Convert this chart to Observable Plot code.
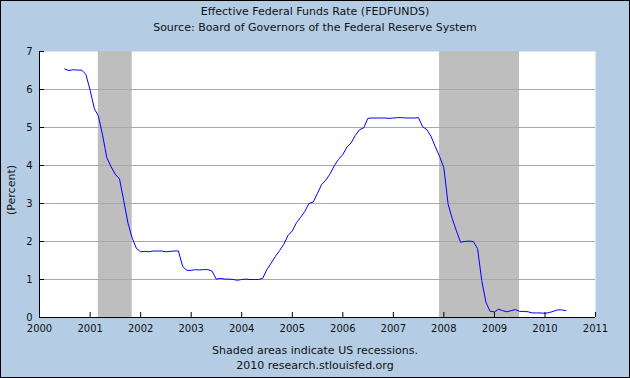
<!DOCTYPE html>
<html><head><meta charset="utf-8">
<script src="https://cdn.jsdelivr.net/npm/d3@7"></script>
<script src="https://cdn.jsdelivr.net/npm/@observablehq/plot@0.6"></script>
<style>
html,body{margin:0;padding:0;}
body{width:630px;height:378px;overflow:hidden;background:#b4cde4;position:relative;font-family:"DejaVu Sans",sans-serif;color:#111;}
.t{position:absolute;left:0;width:630px;text-align:center;font-size:11px;line-height:14px;}
#frame{position:absolute;left:0;top:0;width:630px;height:378px;box-sizing:border-box;border:1px solid #000;pointer-events:none;}
#ylab{position:absolute;left:11px;top:190px;transform:translate(-50%,-50%) rotate(-90deg);font-size:11px;white-space:nowrap;}
#chart{position:absolute;left:0;top:0;}
</style></head>
<body>
<div class="t" style="top:5px">Effective Federal Funds Rate (FEDFUNDS)</div>
<div class="t" style="top:21px">Source: Board of Governors of the Federal Reserve System</div>
<div id="chart"></div>
<div id="ylab">(Percent)</div>
<div class="t" style="top:344px">Shaded areas indicate US recessions.</div>
<div class="t" style="top:359px">2010 research.stlouisfed.org</div>
<div id="frame"></div>
<script>
// Monthly effective federal funds rate, Jul 2000 – Jun 2010 (percent)
const firstMonth = "2000-07-01";
const rates = [
  6.54, 6.50, 6.52, 6.51, 6.51, 6.40,
  5.98, 5.49, 5.31, 4.80, 4.21, 3.97, 3.77, 3.65, 3.07, 2.49, 2.09, 1.82,
  1.73, 1.74, 1.73, 1.75, 1.75, 1.75, 1.73, 1.74, 1.75, 1.75, 1.34, 1.24,
  1.24, 1.26, 1.25, 1.26, 1.26, 1.22, 1.01, 1.03, 1.01, 1.01, 1.00, 0.98,
  1.00, 1.01, 1.00, 1.00, 1.00, 1.03, 1.26, 1.43, 1.61, 1.76, 1.93, 2.16,
  2.28, 2.50, 2.63, 2.79, 3.00, 3.04, 3.26, 3.50, 3.62, 3.78, 4.00, 4.16,
  4.29, 4.49, 4.59, 4.79, 4.94, 4.99, 5.24, 5.25, 5.25, 5.25, 5.25, 5.24,
  5.25, 5.26, 5.26, 5.25, 5.25, 5.25, 5.26, 5.02, 4.94, 4.76, 4.49, 4.24,
  3.94, 2.98, 2.61, 2.28, 1.98, 2.00, 2.01, 2.00, 1.81, 0.97, 0.39, 0.16,
  0.15, 0.22, 0.18, 0.15, 0.18, 0.21, 0.16, 0.16, 0.15, 0.12, 0.12, 0.12,
  0.11, 0.13, 0.16, 0.20, 0.20, 0.18
];
const recessionStarts = ["2001-03-01", "2007-12-01"];
const recessionEnds = ["2001-11-01", "2009-07-01"];
const yearTicks = [2000, 2001, 2002, 2003, 2004, 2005, 2006, 2007, 2008, 2009, 2010, 2011];
const yTicks = [0, 1, 2, 3, 4, 5, 6, 7];
const gridValues = [1, 2, 3, 4, 5, 6];

const start = new Date(firstMonth);
const series = rates.map((v, i) => ({date: d3.utcMonth.offset(start, i), value: v}));
const recessions = recessionStarts.map((s, i) => ({start: new Date(s), end: new Date(recessionEnds[i])}));
const yearDates = yearTicks.map(y => new Date(Date.UTC(y, 0, 1)));

const chart = Plot.plot({
  width: 630,
  height: 378,
  marginLeft: 39,
  marginRight: 35,
  marginTop: 51,
  marginBottom: 61,
  style: {background: "transparent", fontFamily: "DejaVu Sans, sans-serif", fontSize: "10px", color: "#111"},
  x: {type: "utc", domain: [yearDates[0], yearDates[yearDates.length - 1]], label: null},
  y: {domain: [0, 7], label: null},
  marks: [
    Plot.frame({fill: "white", stroke: null}),
    Plot.rect(recessions, {x1: "start", x2: "end", fill: "#bebebe"}),
    Plot.gridY(gridValues, {stroke: "#a8a8a8", strokeOpacity: 1}),
    Plot.line(series, {x: "date", y: "value", stroke: "#0000ff", strokeWidth: 1}),
    Plot.axisX(yearDates, {tickFormat: "%Y", tickSize: -5, tickPadding: 12, stroke: "#000", fill: "#111"}),
    Plot.axisY(yTicks, {tickSize: -5, tickPadding: 12, stroke: "#000", fill: "#111"}),
    Plot.ruleY([0], {stroke: "#000"}),
    Plot.ruleX([yearDates[0]], {stroke: "#000"})
  ]
});
document.getElementById("chart").appendChild(chart);
</script>
</body></html>
